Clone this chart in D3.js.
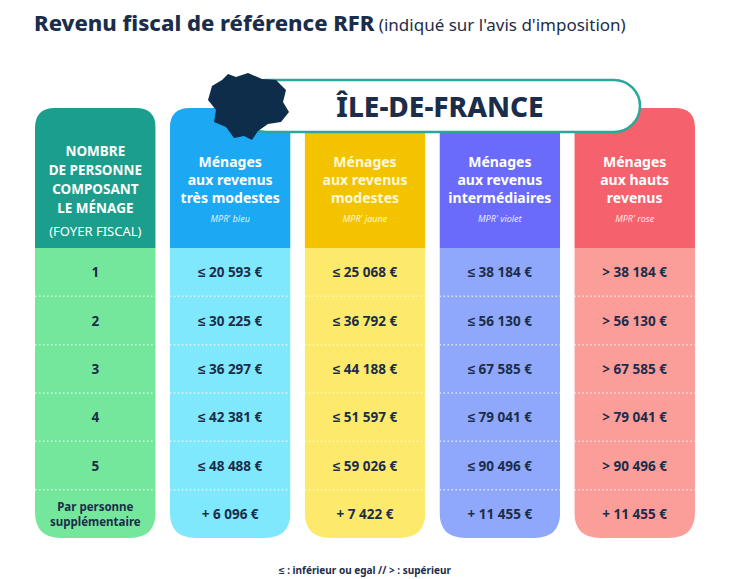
<!DOCTYPE html>
<html><head><meta charset="utf-8">
<script src="https://cdn.jsdelivr.net/npm/d3@7"></script>
<style>body{margin:0;background:#fff}text{font-family:"Noto Sans",sans-serif}</style>
</head><body><div id="chart"></div>
<script>
// data
var persons = ["1", "2", "3", "4", "5", "Par personne|supplémentaire"];
var categories = ["Ménages|aux revenus|très modestes", "Ménages|aux revenus|modestes", "Ménages|aux revenus|intermédiaires", "Ménages|aux hauts|revenus"];
var tags = ["MPR' bleu", "MPR' jaune", "MPR' violet", "MPR' rose"];
var tresModestes = ["≤ 20 593 €", "≤ 30 225 €", "≤ 36 297 €", "≤ 42 381 €", "≤ 48 488 €", "+ 6 096 €"];
var modestes = ["≤ 25 068 €", "≤ 36 792 €", "≤ 44 188 €", "≤ 51 597 €", "≤ 59 026 €", "+ 7 422 €"];
var intermediaires = ["≤ 38 184 €", "≤ 56 130 €", "≤ 67 585 €", "≤ 79 041 €", "≤ 90 496 €", "+ 11 455 €"];
var hauts = ["> 38 184 €", "> 56 130 €", "> 67 585 €", "> 79 041 €", "> 90 496 €", "+ 11 455 €"];

var W = 730, H = 579;
var svg = d3.select("#chart").append("svg").attr("width", W).attr("height", H);
var ink = "#1c2d4a";

svg.append("text").attr("x", 34).attr("y", 31).attr("fill", ink)
    .style("font-size", "22px").style("font-weight", 800)
    .text("Revenu fiscal de référence RFR")
  .append("tspan").style("font-size", "17px").style("font-weight", 400)
    .text(" (indiqué sur l'avis d'imposition)");

var cols = [0, 1, 2, 3, 4];
var x = d3.scaleBand().domain(cols).range([35, 695]).paddingInner(0.105);
var y = d3.scaleBand().domain(d3.range(6)).range([248, 538]);
var headTop = 108, headBot = 248, r1 = 20, r2 = 26;
var headColors = ["#1b9e8b", "#1ca8f2", "#f3c300", "#6a6bfa", "#f5616c"];
var bodyColors = ["#74e79c", "#7fe8fc", "#fdea6c", "#8fa8fb", "#fb9e99"];
var values = [persons, tresModestes, modestes, intermediaires, hauts];

function colPath(x0, w) {
  var y0 = headTop, y1 = y.range()[1];
  return "M" + x0 + "," + (y0 + r1) + "Q" + x0 + "," + y0 + " " + (x0 + r1) + "," + y0 +
    "H" + (x0 + w - r1) + "Q" + (x0 + w) + "," + y0 + " " + (x0 + w) + "," + (y0 + r1) +
    "V" + (y1 - r2) + "Q" + (x0 + w) + "," + y1 + " " + (x0 + w - r2) + "," + y1 +
    "H" + (x0 + r2) + "Q" + x0 + "," + y1 + " " + x0 + "," + (y1 - r2) + "Z";
}

var defs = svg.append("defs");
cols.forEach(function(c) {
  defs.append("clipPath").attr("id", "clip" + c).append("path").attr("d", colPath(x(c), x.bandwidth()));
  var g = svg.append("g").attr("clip-path", "url(#clip" + c + ")");
  g.append("rect").attr("x", x(c)).attr("y", headTop).attr("width", x.bandwidth())
    .attr("height", headBot - headTop).attr("fill", headColors[c]);
  g.append("rect").attr("x", x(c)).attr("y", headBot).attr("width", x.bandwidth())
    .attr("height", y.range()[1] - headBot).attr("fill", bodyColors[c]);
  d3.range(1, 6).forEach(function(i) {
    g.append("line").attr("x1", x(c)).attr("x2", x(c) + x.bandwidth())
      .attr("y1", y(i)).attr("y2", y(i)).attr("stroke", "#fff").attr("stroke-opacity", 0.7)
      .attr("stroke-width", 1.5).attr("stroke-dasharray", "1.5,2.5");
  });
  var cx = x(c) + x.bandwidth() / 2;
  values[c].forEach(function(v, i) {
    var lines = v.split("|");
    var t = svg.append("text").attr("x", cx).attr("text-anchor", "middle").attr("fill", ink)
      .style("font-weight", 700).style("font-size", lines.length > 1 ? "11.5px" : "13.5px");
    lines.forEach(function(l, k) {
      t.append("tspan").attr("x", cx)
        .attr("y", y(i) + y.bandwidth() / 2 + 5 + (k - (lines.length - 1) / 2) * 15).text(l);
    });
  });
  var head = c === 0 ? ["NOMBRE", "DE PERSONNE", "COMPOSANT", "LE MÉNAGE"] : categories[c - 1].split("|");
  var y0 = c === 0 ? 156 : 167;
  var ht = svg.append("text").attr("text-anchor", "middle")
    .attr("fill", c === 2 ? "#fff9d8" : "#fff").style("font-weight", 700)
    .style("font-size", c === 0 ? "13.5px" : "14px");
  head.forEach(function(l, k) {
    ht.append("tspan").attr("x", cx).attr("y", y0 + k * (c === 0 ? 19 : 18)).text(l);
  });
  svg.append("text").attr("x", cx).attr("y", c === 0 ? 236 : 222).attr("text-anchor", "middle")
    .attr("fill", "#fff").style("font-size", c === 0 ? "13px" : "9px")
    .style("font-style", c === 0 ? "normal" : "italic").style("opacity", c === 0 ? 1 : 0.85)
    .text(c === 0 ? "(FOYER FISCAL)" : tags[c - 1]);
});

// banner
svg.append("rect").attr("x", 240).attr("y", 80).attr("width", 400).attr("height", 52).attr("rx", 26)
  .attr("fill", "#fff").attr("stroke", "#2aa89a").attr("stroke-width", 2.5);
svg.append("text").attr("x", 440).attr("y", 117).attr("text-anchor", "middle").attr("fill", ink)
  .style("font-size", "28px").style("font-weight", 800).text("ÎLE-DE-FRANCE");
svg.append("path").attr("fill", "#0e2d4a")
  .attr("d", "M212,86 L222,80 L228,74 L236,77 L248,73 L262,79 L276,80 L286,90 L283,102 L289,112 L281,122 L268,124 L258,131 L252,140 L244,136 L234,138 L226,127 L214,122 L216,110 L208,100 Z");

svg.append("text").attr("x", 365).attr("y", 574).attr("text-anchor", "middle").attr("fill", ink)
  .style("font-size", "10px").style("font-weight", 700)
  .text("≤ : inférieur ou egal // > : supérieur");
</script></body></html>
